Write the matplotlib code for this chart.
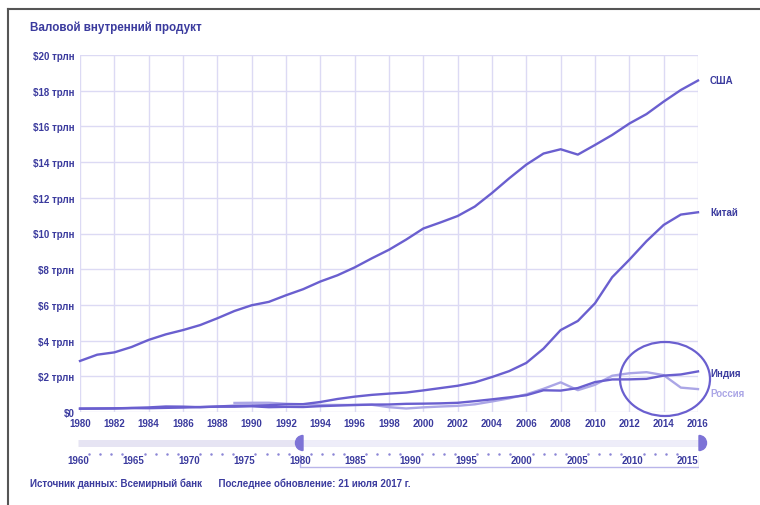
import numpy as np
import matplotlib.pyplot as plt
from matplotlib.patches import Ellipse, Wedge
from matplotlib.lines import Line2D

years = list(range(1980, 2017))
usa = [2.86, 3.21, 3.34, 3.64, 4.04, 4.35, 4.59, 4.87, 5.25, 5.66, 5.98, 6.17, 6.54,
       6.88, 7.31, 7.66, 8.10, 8.61, 9.09, 9.66, 10.28, 10.62, 10.98, 11.51, 12.27,
       13.09, 13.86, 14.48, 14.72, 14.42, 14.96, 15.52, 16.16, 16.69, 17.39, 18.04, 18.57]
china = [0.19, 0.195, 0.203, 0.228, 0.257, 0.309, 0.30, 0.27, 0.31, 0.35, 0.36, 0.38,
         0.43, 0.44, 0.56, 0.73, 0.86, 0.96, 1.03, 1.09, 1.21, 1.34, 1.47, 1.66, 1.96,
         2.29, 2.75, 3.55, 4.59, 5.10, 6.09, 7.55, 8.53, 9.57, 10.48, 11.06, 11.19]
india = [0.186, 0.193, 0.200, 0.218, 0.212, 0.232, 0.248, 0.279, 0.296, 0.296, 0.321,
         0.270, 0.288, 0.279, 0.327, 0.360, 0.393, 0.415, 0.421, 0.458, 0.468, 0.485,
         0.515, 0.608, 0.709, 0.820, 0.940, 1.217, 1.199, 1.342, 1.676, 1.823, 1.828,
         1.857, 2.039, 2.103, 2.274]
russia_years = list(range(1989, 2017))
russia = [0.507, 0.517, 0.518, 0.460, 0.435, 0.395, 0.396, 0.392, 0.405, 0.271, 0.196,
          0.260, 0.307, 0.345, 0.430, 0.591, 0.764, 0.990, 1.300, 1.661, 1.223, 1.525,
          2.032, 2.170, 2.231, 2.064, 1.366, 1.283]
yticks = [0, 2, 4, 6, 8, 10, 12, 14, 16, 18, 20]
ylabels = ["$0"] + ["$%d трлн" % v for v in yticks[1:]]

txt = "#3b3b9e"
line_c = "#6a5fcf"
light_c = "#aba6e6"
grid_c = "#dcdaf4"
handle_c = "#7d73d6"

plt.rcParams['font.family'] = ['Liberation Sans', 'DejaVu Sans']

fig = plt.figure(figsize=(7.6, 5.06), dpi=100)
W, H = 760, 506

def fx(px):
    return px / W

def fy(py):
    return 1 - py / H

ax = fig.add_axes([fx(80), fy(413), fx(698) - fx(80), fy(56) - fy(413)])
ax.set_xlim(1980, 2016)
ax.set_ylim(0, 20)
ax.set_xticks(range(1980, 2017, 2))
ax.set_yticks(yticks)
ax.set_yticklabels(ylabels)
ax.grid(True, color=grid_c, lw=1)
ax.set_axisbelow(True)
for s in ax.spines.values():
    s.set_visible(False)
ax.tick_params(length=0, colors=txt, labelsize=7)
ax.tick_params(axis='x', pad=4)
ax.tick_params(axis='y', pad=4)
for lab in ax.get_xticklabels() + ax.get_yticklabels():
    lab.set_fontweight('bold')

ax.plot(russia_years, russia, color=light_c, lw=1.7, clip_on=False)
ax.plot(years, india, color=line_c, lw=1.7, clip_on=False)
ax.plot(years, china, color=line_c, lw=1.7, clip_on=False)
ax.plot(years, usa, color=line_c, lw=1.7, clip_on=False)

lx = 2016.7
ax.text(lx, usa[-1] + 0.05, "США", color=txt, fontsize=7, fontweight='bold', va='center')
ax.text(lx, china[-1], "Китай", color=txt, fontsize=7, fontweight='bold', va='center')
ax.text(lx, india[-1] - 0.1, "Индия", color=txt, fontsize=7, fontweight='bold', va='center')
ax.text(lx, russia[-1] - 0.2, "Россия", color=light_c, fontsize=7, fontweight='bold', va='center')

# highlight ellipse
fig.patches.append(Ellipse((fx(665), fy(380)), 90 / W, 74 / H, transform=fig.transFigure,
                           fill=False, ec=line_c, lw=1.6))

# range slider
sl = fig.add_axes([fx(78), fy(478), fx(699) - fx(78), fy(432) - fy(478)])
sl.set_xlim(1960, 2016)
sl.set_ylim(0, 1)
sl.axis('off')
sl.plot([1960, 2016], [0.74, 0.74], color="#e6e4f3", lw=5, solid_capstyle='butt')
sl.plot([1980, 2016], [0.74, 0.74], color="#eeedf9", lw=5, solid_capstyle='butt')
for y in range(1961, 2016):
    if y % 5:
        sl.plot(y, 0.51, '.', color="#8c86d6", ms=1.6)
for y in range(1960, 2016, 5):
    sl.text(y, 0.37, str(y), ha='center', va='center', color=txt, fontsize=7, fontweight='bold')
sl.plot([1980, 1980, 2016, 2016], [0.48, 0.22, 0.22, 0.48], color="#b9b5ea", lw=1)

# slider handles (half discs)
hy = (H - 444) / 100
fig.patches.append(Wedge((3.03, hy), 0.075, 90, 270, transform=fig.dpi_scale_trans,
                         color=handle_c))
fig.patches.append(Wedge((6.99, hy), 0.075, 270, 90, transform=fig.dpi_scale_trans,
                         color=handle_c))

fig.text(fx(30), fy(28), "Валовой внутренний продукт", color=txt, fontsize=8.4,
         fontweight='bold', va='center')
fig.text(fx(30), fy(484), "Источник данных: Всемирный банк      Последнее обновление: 21 июля 2017 г.",
         color=txt, fontsize=7, fontweight='bold', va='center')

# screenshot frame
fig.add_artist(Line2D([fx(8), fx(8)], [0, fy(10)], color="#555555", lw=1.5))
fig.add_artist(Line2D([fx(8), 1], [fy(10), fy(10)], color="#555555", lw=1.5))

fig.savefig("out.png", dpi=100)
